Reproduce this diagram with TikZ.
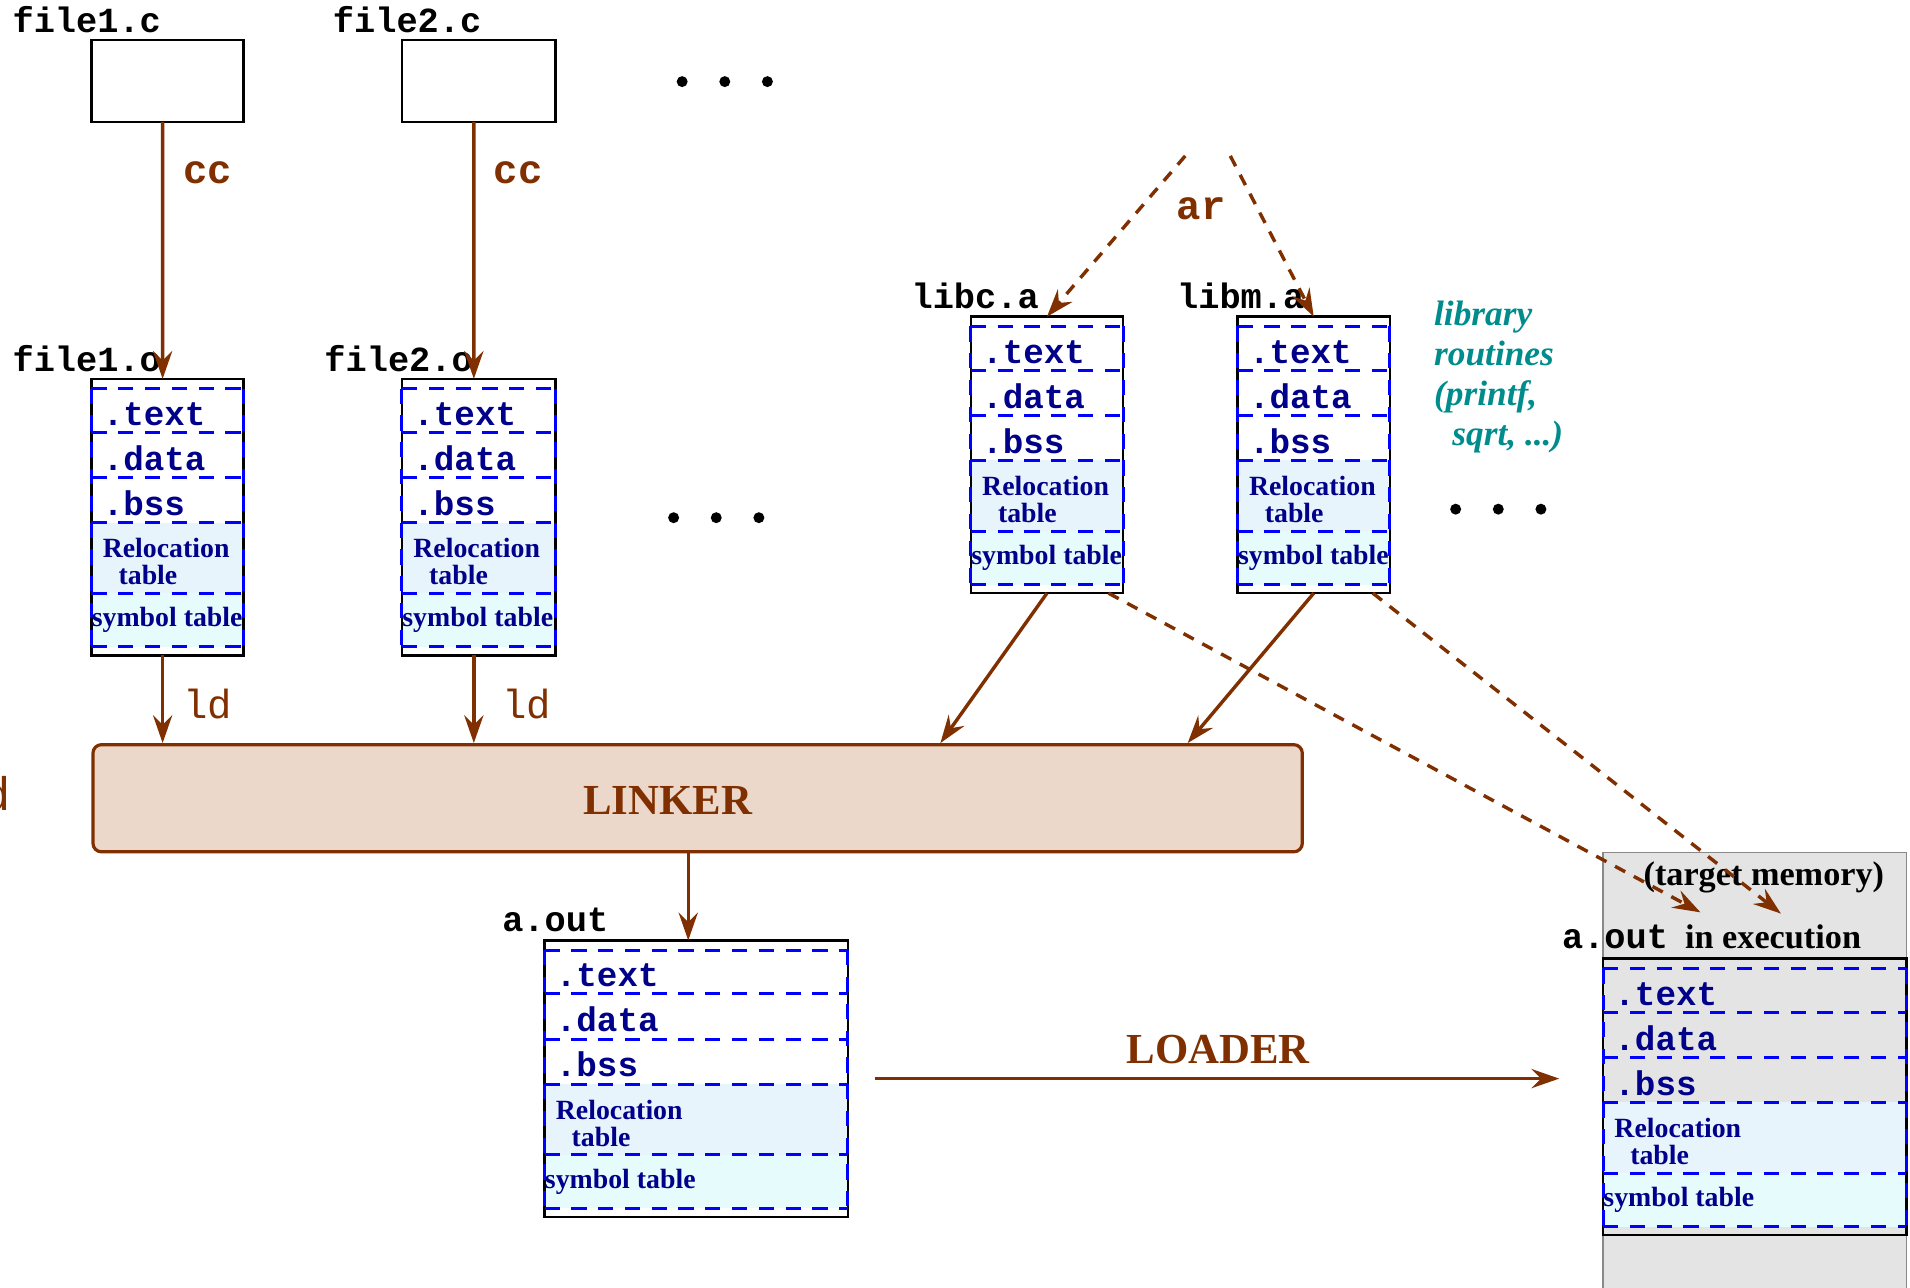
\documentclass[tikz,border=0pt]{standalone}
\usepackage{fontspec}
\setmainfont{Liberation Serif}
\setmonofont{Liberation Mono}
\usepackage{xcolor}
\usetikzlibrary{calc,arrows.meta}

\definecolor{tool}{RGB}{128,48,0}
\definecolor{linkfill}{RGB}{235,216,202}
\definecolor{segblue}{RGB}{0,0,255}
\definecolor{segtext}{RGB}{0,0,139}
\definecolor{relfill}{RGB}{232,244,252}
\definecolor{symfill}{RGB}{230,252,252}
\definecolor{libtext}{RGB}{0,140,140}
\definecolor{memgray}{RGB}{228,228,228}

\tikzset{
  frame/.style = {draw=black, line width=1.2pt, inner sep=0pt, outer sep=0pt},
  segline/.style = {segblue, line width=1.4pt, dash pattern=on 2.5mm off 1.9mm},
  segname/.style = {anchor=west, inner sep=0pt, text=segtext,
    font=\fontsize{16}{18}\selectfont\ttfamily\bfseries},
  segsmall/.style = {anchor=west, inner sep=0pt, text=segtext, align=left,
    font=\fontsize{13}{12.5}\selectfont\bfseries},
  fname/.style = {anchor=base west, inner sep=0pt,
    font=\fontsize{16.5}{18}\selectfont\ttfamily\bfseries},
  toolname/.style = {anchor=west, inner sep=0pt, text=tool,
    font=\fontsize{19}{20}\selectfont\ttfamily\bfseries},
  bigtitle/.style = {inner sep=0pt, text=tool, font=\fontsize{20}{22}\selectfont\bfseries},
  flow/.style = {draw=tool, line width=1.6pt, -{Stealth[length=13pt,width=9pt,inset=4.5pt]}},
  libflow/.style = {flow, dash pattern=on 1.9mm off 1.6mm},
}

% memory image: #1 fill of upper part, #2 node name, #3 top left corner, #4 width
\newcommand{\segbox}[4][white]{%
  \begin{scope}[shift={#3}]
    \fill[#1] (0,0) rectangle (#4,-118);
    \fill[relfill] (0,-118) rectangle (#4,-176);
    \fill[symfill] (0,-176) rectangle (#4,-220);
    \fill[#1] (0,-220) rectangle (#4,-227);
    \node[frame, minimum width=#4*0.02cm, minimum height=4.54cm, anchor=north west] (#2) at (0,0) {};
    \foreach \y in {8,44,81,118,176,220}
      \draw[segline] (0,-\y) -- (#4,-\y);
    \draw[segline] (0,-8) -- (0,-220) (#4,-8) -- (#4,-220);
    \node[segname] at (9,-29) {.text};
    \node[segname] at (9,-65) {.data};
    \node[segname] at (9,-102) {.bss};
    \node[segsmall] at (9,-150) {Relocation\\\hspace{2.6mm}table};
    \node[segsmall] at (0,-198) {symbol table};
  \end{scope}}

\begin{document}
\begin{tikzpicture}[x=0.02cm, y=0.02cm]
\useasboundingbox (0,0) rectangle (1568,-1057);

%target memory
\draw[memgray!60!black, fill=memgray, line width=0.7pt] (1316,-700) rectangle (1565,-1070);

%source files
\node[fname] at (10,-27) {file1.c};
\node[frame, minimum width=2.5cm, minimum height=1.34cm, anchor=north west] (f1c) at (75,-33) {};
\node[fname] at (273,-27) {file2.c};
\node[frame, minimum width=2.52cm, minimum height=1.34cm, anchor=north west] (f2c) at (330,-33) {};
\foreach \x in {560,595,630}
  \fill (\x,-67) circle (4.5);

%object files
\node[fname] at (10,-305) {file1.o};
\segbox{f1o}{(75,-311)}{125}
\node[fname] at (266,-305) {file2.o};
\segbox{f2o}{(330,-311)}{126}
\foreach \x in {553,588,623}
  \fill (\x,-425) circle (4.5);

%compile
\draw[flow] ([xshift=-0.08cm]f1c.south) -- ([xshift=-0.08cm]f1o.north);
\draw[flow] ([xshift=-0.08cm]f2c.south) -- ([xshift=-0.08cm]f2o.north);
\node[toolname] at (150,-142) {cc};
\node[toolname] at (405,-142) {cc};

%libraries
\node[fname] at (748,-253) {libc.a};
\segbox{libc}{(797,-260)}{125}
\node[fname] at (966,-253) {libm.a};
\segbox{libm}{(1016,-260)}{125}
\node[anchor=north west, inner sep=0pt, text=libtext, align=left,
  font=\fontsize{16.5}{18.7}\selectfont\bfseries\itshape] (note) at (1177,-247)
  {library\\routines\\(printf,\\\hspace{3mm}sqrt, ...)};
\foreach \x in {1195,1230,1265}
  \fill (\x,-418) circle (4.5);

%archive
\coordinate (arl) at (973,-128);
\coordinate (arr) at (1010,-128);
\draw[libflow] (arl) -- (libc.north);
\draw[libflow] (arr) -- (libm.north);
\node[toolname, anchor=center] at (986,-171) {ar};

%linker
\node[draw=tool, fill=linkfill, line width=1.5pt, rounded corners=1.4mm, inner sep=0pt,
  minimum width=19.86cm, minimum height=1.76cm, anchor=north west] (linker) at (75,-610) {};
\node[bigtitle] at (548,-657) {LINKER};
\node[anchor=base east, inner sep=0pt, text=tool, font=\fontsize{22}{22}\selectfont\ttfamily] at (9,-665) {d};
\draw[flow] ([xshift=-0.08cm]f1o.south) -- ([xshift=-0.08cm]f1o.south |- linker.north);
\draw[flow] ([xshift=-0.08cm]f2o.south) -- ([xshift=-0.08cm]f2o.south |- linker.north);
\node[toolname, font=\fontsize{19}{20}\selectfont\ttfamily] at (150,-578) {ld};
\node[toolname, font=\fontsize{19}{20}\selectfont\ttfamily] at (412,-578) {ld};
\coordinate (lkc) at (772,-610);
\coordinate (lkm) at (975,-610);
\draw[flow] (libc.south) -- (lkc);
\draw[flow] (libm.south) -- (lkm);

%executable
\node[fname] at (412,-765) {a.out};
\segbox{aout}{(447,-772)}{249}
\draw[flow] ([xshift=-0.13cm]aout.north |- linker.south) -- ([xshift=-0.13cm]aout.north);

%executable in memory
\node[inner sep=0pt, font=\fontsize{16}{18}\selectfont\bfseries] (tm) at (1448,-720) {(target memory)};
\node[fname] at (1282,-779) {a.out};
\node[anchor=base west, inner sep=0pt, font=\fontsize{16}{18}\selectfont\bfseries] at (1383,-779) {in execution};
\segbox[memgray]{aoutx}{(1316,-787)}{249}

%library routines loaded
\coordinate (tgc) at (1396,-749);
\coordinate (tgm) at (1462,-750);
\draw[libflow] ([xshift=-0.24cm]libc.south east) -- (tgc);
\draw[libflow] ([xshift=-0.28cm]libm.south east) -- (tgm);

%loader
\draw[flow] ([xshift=0.44cm]aout.east) -- ([xshift=-0.72cm]aoutx.west |- aout.east);
\node[bigtitle] at (1000,-862) {LOADER};

\end{tikzpicture}
\end{document}
